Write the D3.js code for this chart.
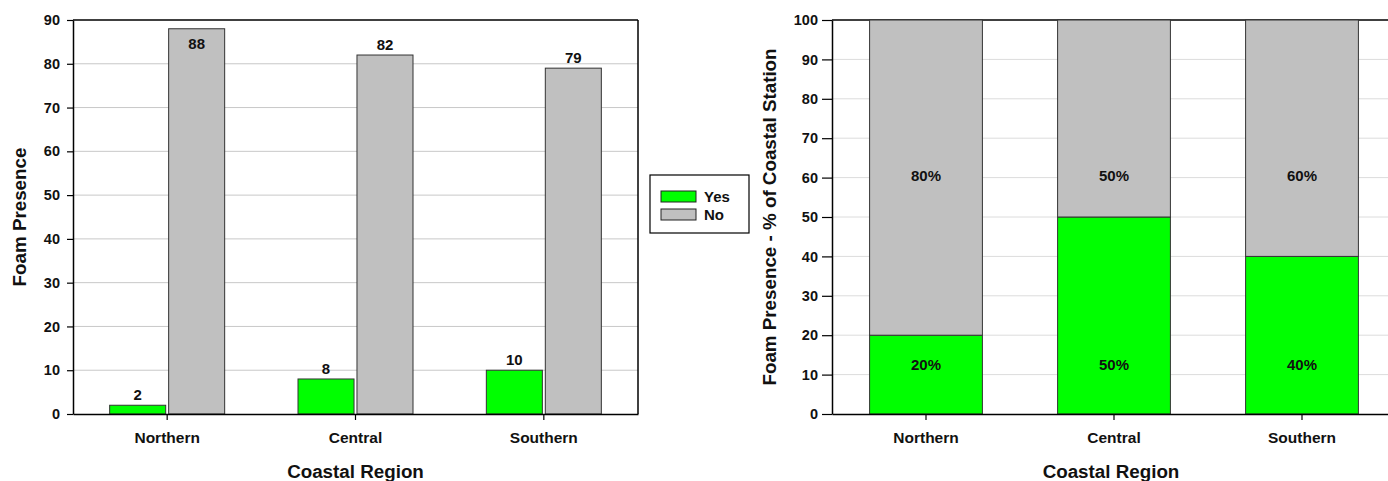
<!DOCTYPE html>
<html><head><meta charset="utf-8">
<script src="https://cdn.jsdelivr.net/npm/d3@7"></script>
<style>body{margin:0;background:#fff;}svg{display:block;font-family:"Liberation Sans",Arial,sans-serif;font-weight:bold;}</style>
</head><body><svg id="c" width="1388" height="481"></svg>
<script>
const categories = ["Northern","Central","Southern"];
const seriesNames = ["Yes","No"];
const yesCounts = [2,8,10];
const noCounts = [88,82,79];
const yesPct = [20,50,40];
const noPct = [80,50,60];
const leftTicks = [0,10,20,30,40,50,60,70,80,90];
const rightTicks = [0,10,20,30,40,50,60,70,80,90,100];
// value level at which the percentage labels sit in the reference
const pctLabelLevel = {Yes:12.5, No:60.5};
const colors = {Yes:"#00ff00", No:"#c0c0c0"};

const svg = d3.select("#c");

// ---------- Left chart ----------
const L = {x0:73, x1:638, y0:414, y1:20};
const gL = svg.append("g");
const xL = d3.scaleBand().domain(categories).range([L.x0, L.x1]);
const yL = d3.scaleLinear().domain([0,90]).range([L.y0, L.y1]);
const xSub = d3.scaleBand().domain(seriesNames).range([-57.5, 57.5]).paddingInner(0.05);

gL.selectAll(".grid").data(leftTicks.filter(t=>t>0 && t<90)).join("line")
  .attr("x1",L.x0).attr("x2",L.x1).attr("y1",d=>yL(d)).attr("y2",d=>yL(d))
  .attr("stroke","#c8c8c8").attr("stroke-width",1);

const leftData = [];
categories.forEach((c,i)=>{
  leftData.push({cat:c, s:"Yes", v:yesCounts[i]});
  leftData.push({cat:c, s:"No", v:noCounts[i]});
});
gL.selectAll("rect.bar").data(leftData).join("rect")
  .attr("x",d=>xL(d.cat)+xL.bandwidth()/2+xSub(d.s))
  .attr("width",xSub.bandwidth())
  .attr("y",d=>yL(d.v)).attr("height",d=>yL(0)-yL(d.v))
  .attr("fill",d=>colors[d.s]).attr("stroke","#333").attr("stroke-width",1);

gL.selectAll("text.val").data(leftData).join("text")
  .attr("x",d=>xL(d.cat)+xL.bandwidth()/2+xSub(d.s)+xSub.bandwidth()/2)
  .attr("y",d=>{const t=yL(d.v)-5; return t<L.y1+14 ? yL(d.v)+20 : t;})
  .attr("text-anchor","middle").attr("font-size",15).attr("fill","#111")
  .text(d=>d.v);

// frame
gL.append("line").attr("x1",L.x0).attr("x2",L.x1).attr("y1",L.y1).attr("y2",L.y1).attr("stroke","#000").attr("stroke-width",1.5);
gL.append("line").attr("x1",L.x1).attr("x2",L.x1).attr("y1",L.y1).attr("y2",L.y0).attr("stroke","#000").attr("stroke-width",1.5);

gL.append("g").attr("class","yax").attr("transform",`translate(${L.x0},0)`)
  .call(d3.axisLeft(yL).tickValues(leftTicks).tickSize(6).tickSizeOuter(0).tickPadding(7));
gL.append("g").attr("class","xax").attr("transform",`translate(0,${L.y0})`)
  .call(d3.axisBottom(xL).tickSize(6).tickSizeOuter(0).tickPadding(12));

gL.append("text").attr("transform",`translate(26,${(L.y0+L.y1)/2}) rotate(-90)`)
  .attr("text-anchor","middle").attr("font-size",18.8).attr("fill","#111").text("Foam Presence");
gL.append("text").attr("x",(L.x0+L.x1)/2).attr("y",478)
  .attr("text-anchor","middle").attr("font-size",18.8).attr("fill","#111").text("Coastal Region");

// legend
const lg = svg.append("g");
lg.append("rect").attr("x",650).attr("y",175).attr("width",99).attr("height",58)
  .attr("fill","#fff").attr("stroke","#000").attr("stroke-width",1.2);
seriesNames.forEach((s,i)=>{
  lg.append("rect").attr("x",661).attr("y",191+i*18).attr("width",35).attr("height",11)
    .attr("fill",colors[s]).attr("stroke","#222").attr("stroke-width",1);
  lg.append("text").attr("x",704).attr("y",202+i*18).attr("font-size",15).attr("fill","#111").text(s);
});

// ---------- Right chart ----------
const R = {x0:832, x1:1396, y0:414, y1:20};
const gR = svg.append("g");
const xR = d3.scaleBand().domain(categories).range([R.x0, R.x1]).paddingInner(0.4).paddingOuter(0.2);
const yR = d3.scaleLinear().domain([0,100]).range([R.y0, R.y1]);

gR.selectAll(".grid").data(rightTicks.filter(t=>t>0 && t<100)).join("line")
  .attr("x1",R.x0).attr("x2",R.x1).attr("y1",d=>yR(d)).attr("y2",d=>yR(d))
  .attr("stroke","#dcdcdc").attr("stroke-width",1);

gR.append("line").attr("x1",R.x0).attr("x2",R.x1).attr("y1",R.y1).attr("y2",R.y1).attr("stroke","#000").attr("stroke-width",1.5);

const stacked = [];
categories.forEach((c,i)=>{
  stacked.push({cat:c, s:"Yes", lo:0, hi:yesPct[i], v:yesPct[i]});
  stacked.push({cat:c, s:"No", lo:yesPct[i], hi:yesPct[i]+noPct[i], v:noPct[i]});
});
gR.selectAll("rect.bar").data(stacked).join("rect")
  .attr("x",d=>xR(d.cat)).attr("width",xR.bandwidth())
  .attr("y",d=>yR(d.hi)).attr("height",d=>yR(d.lo)-yR(d.hi))
  .attr("fill",d=>colors[d.s]).attr("stroke","#333").attr("stroke-width",1);
gR.selectAll("text.val").data(stacked).join("text")
  .attr("x",d=>xR(d.cat)+xR.bandwidth()/2)
  .attr("y",d=>yR(pctLabelLevel[d.s])+5)
  .attr("text-anchor","middle").attr("font-size",15).attr("fill","#111")
  .text(d=>d.v+"%");

gR.append("g").attr("class","yax").attr("transform",`translate(${R.x0},0)`)
  .call(d3.axisLeft(yR).tickValues(rightTicks).tickSize(10).tickSizeOuter(0).tickPadding(4));
gR.append("g").attr("class","xax").attr("transform",`translate(0,${R.y0})`)
  .call(d3.axisBottom(xR).tickSize(6).tickSizeOuter(0).tickPadding(12));

gR.append("text").attr("transform",`translate(776,${(R.y0+R.y1)/2}) rotate(-90)`)
  .attr("text-anchor","middle").attr("font-size",18.8).attr("fill","#111").text("Foam Presence - % of Coastal Station");
gR.append("text").attr("x",1111).attr("y",478)
  .attr("text-anchor","middle").attr("font-size",18.8).attr("fill","#111").text("Coastal Region");

svg.selectAll(".tick text").attr("font-size",14.5).attr("font-weight","bold").attr("fill","#111").attr("font-family","Liberation Sans, Arial, sans-serif");
svg.selectAll(".xax .tick text").attr("font-size",15.5);
svg.selectAll(".domain").attr("stroke","#000").attr("stroke-width",1.5);
svg.selectAll(".tick line").attr("stroke","#000").attr("stroke-width",1.2);
</script></body></html>
